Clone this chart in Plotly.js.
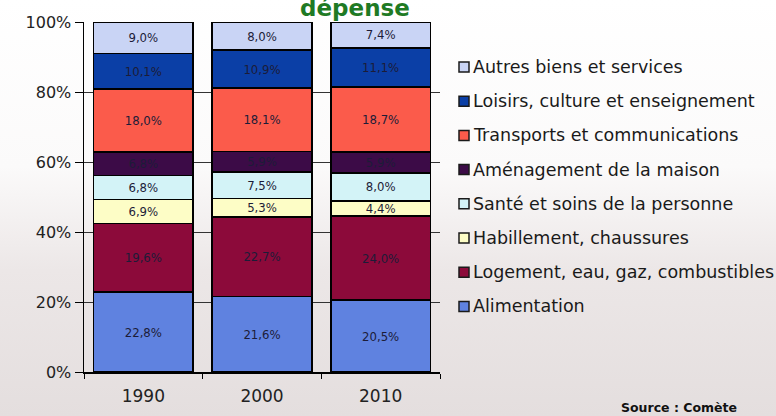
<!DOCTYPE html>
<html>
<head>
<meta charset="utf-8">
<script src="https://cdn.plot.ly/plotly-3.0.1.min.js"></script>
<style>
html,body{margin:0;padding:0;}
body{width:776px;height:416px;background:linear-gradient(to bottom,#ffffff 0%,#fbfafa 40%,#ece7e7 65%,#e4dede 100%);}
#chart{width:776px;height:416px;}
</style>
</head>
<body>
<div id="chart"></div>
<script>
const years = ['1990', '2000', '2010'];
const seriesNames = [
  'Alimentation',
  'Logement, eau, gaz, combustibles',
  'Habillement, chaussures',
  'Santé et soins de la personne',
  'Aménagement de la maison',
  'Transports et communications',
  'Loisirs, culture et enseignement',
  'Autres biens et services'
];
const alimentation = [22.8, 21.6, 20.5];
const logement = [19.6, 22.7, 24.0];
const habillement = [6.9, 5.3, 4.4];
const sante = [6.8, 7.5, 8.0];
const amenagement = [6.8, 5.9, 5.9];
const transports = [18.0, 18.1, 18.7];
const loisirs = [10.1, 10.9, 11.1];
const autres = [9.0, 8.0, 7.4];
const yTickVals = [0, 20, 40, 60, 80, 100];
const yTickText = ['0%', '20%', '40%', '60%', '80%', '100%'];

const values = [alimentation, logement, habillement, sante, amenagement, transports, loisirs, autres];
const colors = ['#5f82e0', '#8c0a3a', '#fdfdc6', '#d3f3f7', '#3c0b47', '#fb5b4b', '#0b3fa6', '#c9d4f5'];

const fmt = v => v.toFixed(1).replace('.', ',') + '%';

// plot area geometry (pixels)
const L = 84, R = 336, T = 22, B = 44, W = 776, H = 416;
const PW = W - L - R, PH = H - T - B;
const px = x => (x - L) / PW;
const py = y => (H - B - y) / PH;

const traces = values.map((vals, i) => ({
  type: 'bar',
  name: seriesNames[i],
  x: years,
  y: vals,
  text: vals.map(fmt),
  textposition: 'inside',
  insidetextanchor: 'middle',
  textangle: 0,
  constraintext: 'none',
  textfont: {family: 'Liberation Sans Narrow, DejaVu Sans Condensed, Arial Narrow, sans-serif', size: 13, color: '#1c1c38'},
  marker: {color: colors[i], line: {color: '#000000', width: 1.6}},
  showlegend: false,
  hoverinfo: 'skip'
}));

// legend drawn as shapes + annotations, top item = last series
const shapes = [];
const annotations = [];
const legendOrder = seriesNames.map((_, i) => i).reverse();
legendOrder.forEach((si, k) => {
  const cy = 67 + k * 34.2;
  shapes.push({
    type: 'rect', xref: 'paper', yref: 'paper',
    x0: px(459), x1: px(469), y0: py(cy + 5), y1: py(cy - 5),
    fillcolor: colors[si], line: {color: '#1a1a1a', width: 1.5}
  });
  annotations.push({
    text: seriesNames[si], xref: 'paper', yref: 'paper',
    x: px(471), y: py(cy), xanchor: 'left', yanchor: 'middle',
    showarrow: false,
    font: {family: 'DejaVu Sans, sans-serif', size: 17.5, color: '#1a1a1a'}
  });
});

annotations.push(
  {text: '<b>dépense</b>', xref: 'paper', yref: 'paper', x: px(355), y: py(8), xanchor: 'center', yanchor: 'middle',
   showarrow: false, font: {family: 'DejaVu Sans, sans-serif', size: 23, color: '#1f7a24'}},
  {text: '<b>Source : Comète</b>', xref: 'paper', yref: 'paper', x: px(679), y: py(407), xanchor: 'center', yanchor: 'middle',
   showarrow: false, font: {family: 'DejaVu Sans, sans-serif', size: 12.5, color: '#111'}}
);

const layout = {
  width: W,
  height: H,
  margin: {l: L, r: R, t: T, b: B},
  paper_bgcolor: 'rgba(0,0,0,0)',
  plot_bgcolor: 'rgba(0,0,0,0)',
  barmode: 'stack',
  bargap: 0.16,
  font: {family: 'DejaVu Sans, sans-serif', color: '#222222'},
  showlegend: false,
  xaxis: {
    type: 'category',
    showline: true, linecolor: '#000', linewidth: 1.5,
    ticks: 'outside', ticklen: 5, tickcolor: '#000', tickson: 'boundaries',
    tickfont: {size: 17, color: '#222'},
    ticklabelstandoff: 8,
    showgrid: false, zeroline: false,
    fixedrange: true
  },
  yaxis: {
    range: [0, 100],
    tickvals: yTickVals,
    ticktext: yTickText,
    showline: true, linecolor: '#000', linewidth: 1.5,
    ticks: 'outside', ticklen: 8, tickcolor: '#000',
    tickfont: {size: 16, color: '#222'},
    showgrid: true, gridcolor: '#333333', gridwidth: 1,
    zeroline: false,
    fixedrange: true
  },
  shapes: shapes,
  annotations: annotations
};

Plotly.newPlot('chart', traces, layout, {displayModeBar: false, staticPlot: true});
</script>
</body>
</html>
